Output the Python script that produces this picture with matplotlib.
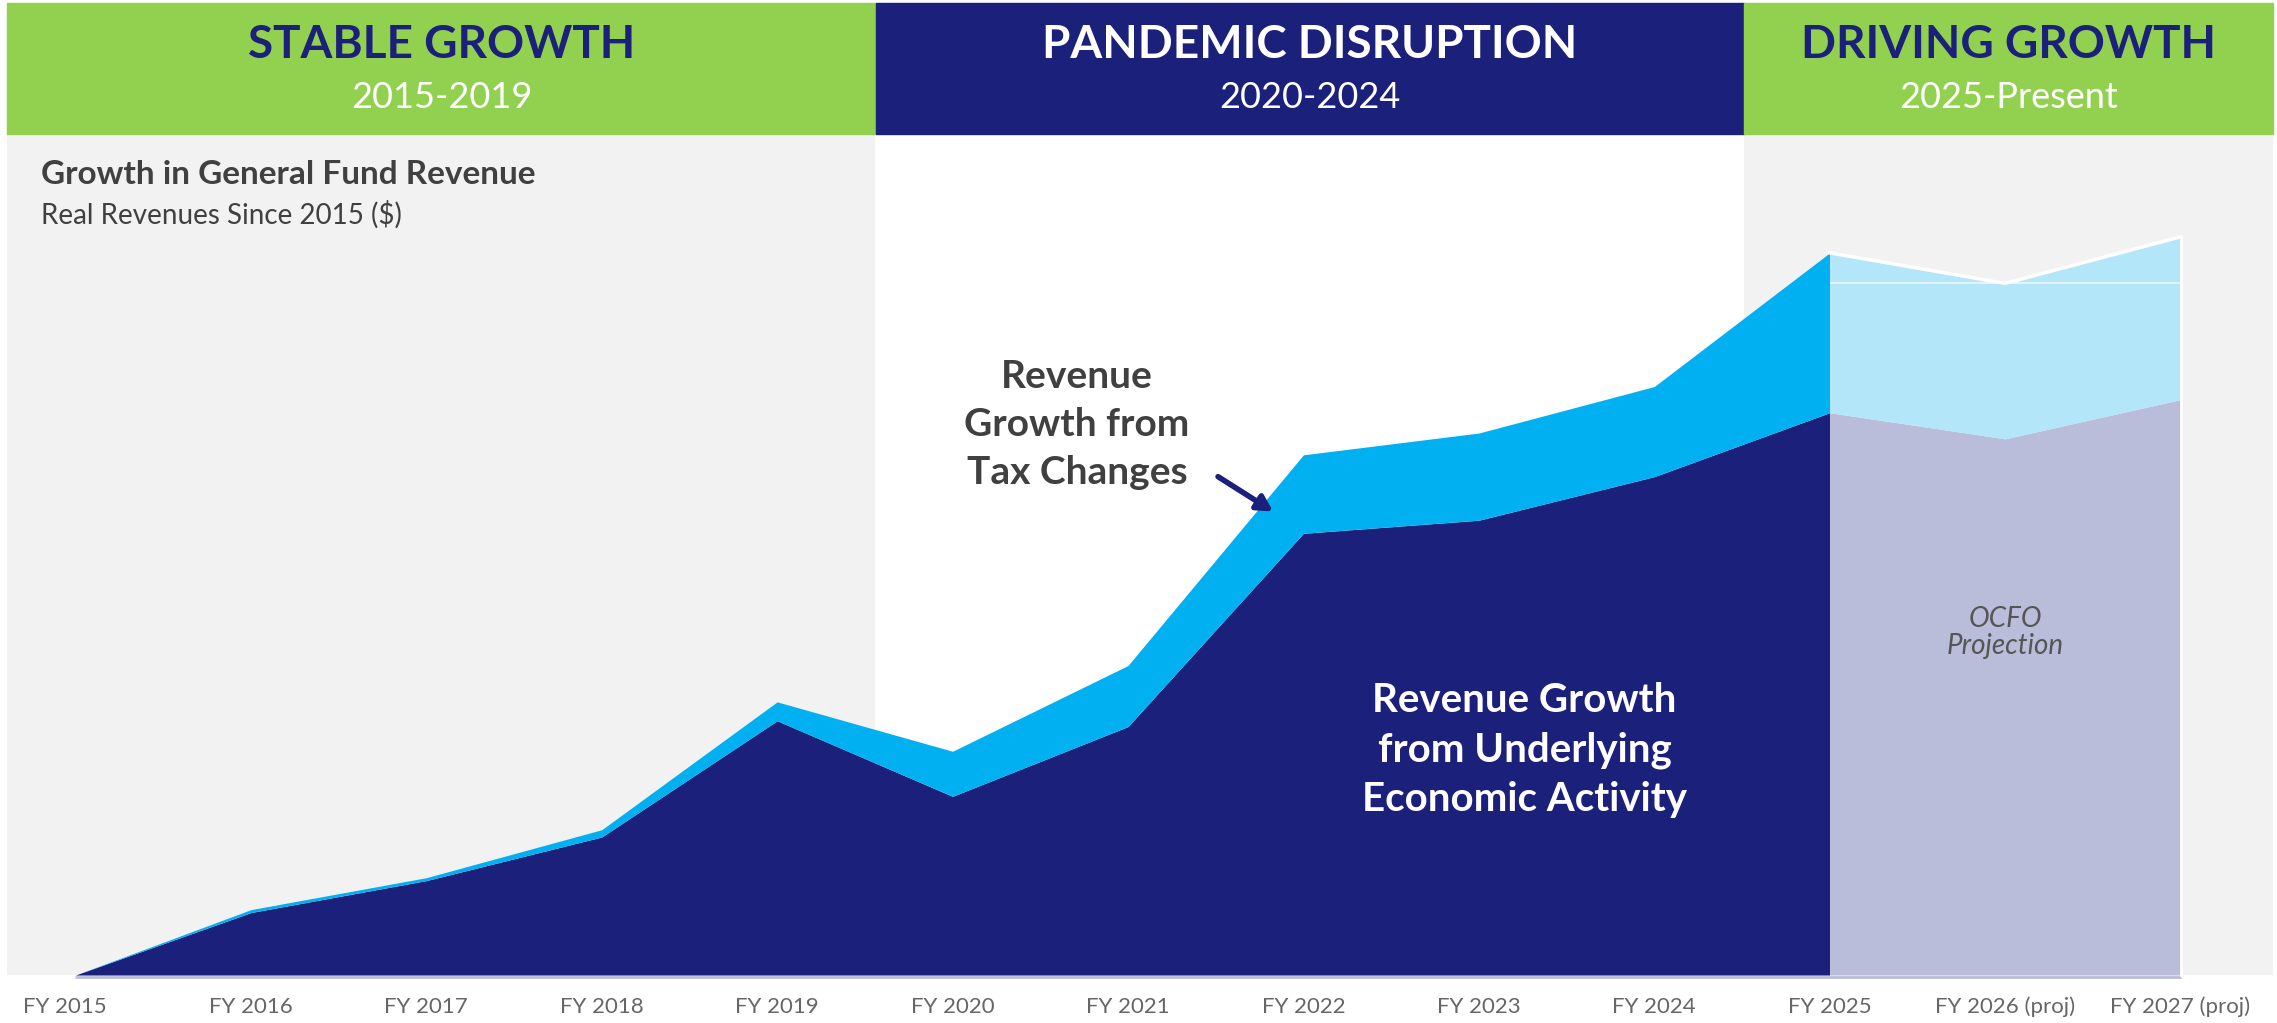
import numpy as np
import matplotlib.pyplot as plt
from matplotlib.patches import Rectangle

# Dati (unità relative, nessun asse y visibile)
years = ['FY 2015', 'FY 2016', 'FY 2017', 'FY 2018', 'FY 2019', 'FY 2020', 'FY 2021',
         'FY 2022', 'FY 2023', 'FY 2024', 'FY 2025', 'FY 2026 (proj)', 'FY 2027 (proj)']
underlying = [0, 43, 65, 95, 175, 123, 171, 304, 313, 343, 387, 369, 396]
total = [0, 45, 67, 100, 188, 154, 213, 358, 373, 405, 497, 476, 508]
n_actual = 11  # FY2015..FY2025 effettivi, poi proiezioni

periods = ['STABLE GROWTH', 'PANDEMIC DISRUPTION', 'DRIVING GROWTH']
period_years = ['2015-2019', '2020-2024', '2025-Present']

green = '#92d050'
navy = '#1b207a'
blue = '#00b0f0'
pale_blue = '#b3e6f8'
lavender = '#b9bdda'
gray_bg = '#f2f2f2'
text_gray = '#404040'

plt.rcParams['font.family'] = ['Lato', 'DejaVu Sans']

fig = plt.figure(figsize=(22.77, 10.23), dpi=100)
ax = fig.add_axes([0, 0, 1, 1])
ax.set_xlim(-0.43, 12.55)
ax.set_ylim(-33, 671)
ax.axis('off')

x = np.arange(len(years))
und = np.array(underlying)
tot = np.array(total)

# sfondi dei periodi
bounds = [-0.39, 4.56, 9.51, 12.53]
for i in range(3):
    if i != 1:
        ax.add_patch(Rectangle((bounds[i], 0), bounds[i + 1] - bounds[i], 580,
                               color=gray_bg, zorder=0, lw=0))

# aree effettive
xa = x[:n_actual]
ax.fill_between(xa, 0, und[:n_actual], color=navy, lw=0, zorder=2)
ax.fill_between(xa, und[:n_actual], tot[:n_actual], color=blue, lw=0, zorder=2)

# aree proiettate
xp = x[n_actual - 1:]
ax.fill_between(xp, 0, und[n_actual - 1:], color=lavender, lw=0, zorder=2)
ax.fill_between(xp, und[n_actual - 1:], tot[n_actual - 1:], color=pale_blue, lw=0, zorder=2)
ax.plot(xp, tot[n_actual - 1:], color='white', lw=2.5, zorder=3)
ax.plot([xp[-1], xp[-1]], [0, tot[-1]], color='white', lw=2, zorder=3)
ax.hlines(tot[n_actual], xp[0], xp[-1], color='white', lw=1.2, alpha=0.7, zorder=3)
ax.hlines(-1.5, 0, xp[-1], color='#b9bdda', lw=2, zorder=1)

# etichette asse x
for i, lab in enumerate(years):
    ax.text(x[i] - 0.06 if i == 0 else x[i], -22, lab, ha='center', va='center',
            fontsize=16, color='#666666')

# testata
hdr_bounds = [5 / 1568, 603 / 1568, 1201 / 1568, 1565 / 1568]
hdr_colors = [green, navy, green]
title_colors = [navy, 'white', navy]
for i in range(3):
    fig.patches.append(Rectangle((hdr_bounds[i], 1 - 92 / 704), hdr_bounds[i + 1] - hdr_bounds[i],
                                 90 / 704, transform=fig.transFigure, color=hdr_colors[i], zorder=0))
    cx = (hdr_bounds[i] + hdr_bounds[i + 1]) / 2
    fig.text(cx, 1 - 31 / 704, periods[i], ha='center', va='center', fontsize=33,
             fontweight='bold', color=title_colors[i])
    fig.text(cx, 1 - 67 / 704, period_years[i], ha='center', va='center', fontsize=26,
             color='white')

# titolo del grafico
fig.text(28 / 1568, 1 - 120 / 704, 'Growth in General Fund Revenue', ha='left', va='center',
         fontsize=24, fontweight='bold', color=text_gray)
fig.text(28 / 1568, 1 - 148 / 704, 'Real Revenues Since 2015 ($)', ha='left', va='center',
         fontsize=20, color=text_gray)

# annotazioni
ax.text(5.71, 379, 'Revenue\nGrowth from\nTax Changes', ha='center', va='center',
        fontsize=28, fontweight='bold', color=text_gray, linespacing=1.45)
ax.annotate('', xy=(6.84, 318), xytext=(6.5, 344),
            arrowprops=dict(arrowstyle='-|>,head_width=0.5,head_length=0.9', color=navy, lw=4))
ax.text(8.26, 155, 'Revenue Growth\nfrom Underlying\nEconomic Activity', ha='center', va='center',
        fontsize=29, fontweight='bold', color='white', linespacing=1.4)
ax.text(11.0, 236, 'OCFO\nProjection', ha='center', va='center', fontsize=20,
        style='italic', color='#555555', linespacing=1.05)

plt.savefig('out.png', dpi=100)
